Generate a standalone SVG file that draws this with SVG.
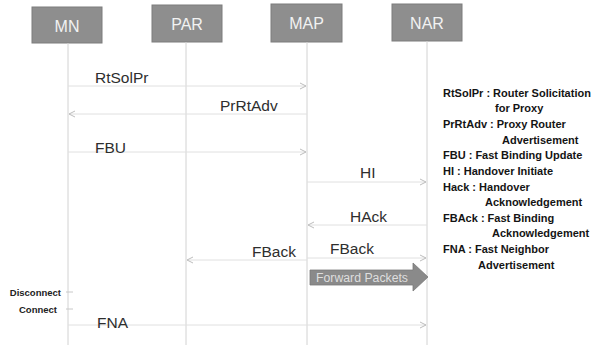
<svg xmlns="http://www.w3.org/2000/svg" width="595" height="348" viewBox="0 0 595 348">
<style>
.box{fill:#8e8e8e;stroke:#7c7c7c;stroke-width:1}
.bt{font-family:"Liberation Sans",Arial,sans-serif;font-size:16px;fill:#f2f2f2;text-anchor:middle}
.life{stroke:#d2d2d2;stroke-width:1;fill:none}
.msg{stroke:#e0e0e0;stroke-width:1;fill:none;marker-end:url(#ah)}
.lbl{font-family:"Liberation Sans",Arial,sans-serif;font-size:15.5px;fill:#2e2e2e}
.leg{font-family:"Liberation Sans",Arial,sans-serif;font-size:11px;font-weight:bold;fill:#141414}
.side{font-family:"Liberation Sans",Arial,sans-serif;font-size:9.5px;font-weight:bold;fill:#222}
</style>
<defs>
<marker id="ah" markerWidth="8" markerHeight="8" refX="7" refY="4" orient="auto" markerUnits="userSpaceOnUse">
<path d="M1,1 L7,4 L1,7" fill="none" stroke="#bdbdbd" stroke-width="1"/>
</marker>
</defs>
<rect width="595" height="348" fill="#ffffff"/>
<g id="MN"><rect class="box" x="32" y="7" width="70" height="36"/><text class="bt" x="67" y="32">MN</text></g>
<g id="PAR"><rect class="box" x="152" y="5" width="70" height="37"/><text class="bt" x="187" y="30">PAR</text></g>
<g id="MAP"><rect class="box" x="271" y="4" width="71" height="38"/><text class="bt" x="306.5" y="29">MAP</text></g>
<g id="NAR"><rect class="box" x="392" y="4" width="70" height="37"/><text class="bt" x="427" y="29">NAR</text></g>
<g id="lifelines">
<line class="life" x1="68" y1="43" x2="68" y2="345"/>
<line class="life" x1="186" y1="42" x2="186" y2="345"/>
<line class="life" x1="307" y1="42" x2="307" y2="345"/>
<line class="life" x1="427" y1="41" x2="427" y2="345" stroke="#bdbdbd"/>
</g>
<g id="connectors">
<line class="msg" x1="68" y1="86" x2="306" y2="86"/>
<line class="msg" x1="307" y1="114" x2="69" y2="114"/>
<line class="msg" x1="68" y1="152" x2="306" y2="152"/>
<line class="msg" x1="307" y1="182" x2="426" y2="182"/>
<line class="msg" x1="427" y1="225" x2="308" y2="225"/>
<line class="msg" x1="307" y1="260" x2="187" y2="260"/>
<line class="msg" x1="307" y1="258" x2="426" y2="258"/>
<line class="msg" x1="68" y1="325" x2="426" y2="325"/>
<line x1="66" y1="292" x2="73" y2="292" stroke="#c8c8c8"/>
<line x1="66" y1="309" x2="73" y2="309" stroke="#c8c8c8"/>
<polygon points="310,270 413,270 413,263 428,277 413,291 413,285 310,285" fill="#8a8a8a" stroke="#7a7a7a" stroke-width="0.8"/>
<text x="362" y="282" font-family="Liberation Sans, Arial, sans-serif" font-size="12px" fill="#dedede" text-anchor="middle" textLength="92" lengthAdjust="spacingAndGlyphs">Forward Packets</text>
</g>
<g id="labels">
<text class="lbl" x="95" y="83">RtSolPr</text>
<text class="lbl" x="220" y="111">PrRtAdv</text>
<text class="lbl" x="95" y="153">FBU</text>
<text class="lbl" x="360" y="178">HI</text>
<text class="lbl" x="350" y="222">HAck</text>
<text class="lbl" x="252" y="257">FBack</text>
<text class="lbl" x="330" y="254">FBack</text>
<text class="lbl" x="97" y="328">FNA</text>
<text class="side" x="61" y="296" text-anchor="end">Disconnect</text>
<text class="side" x="57" y="313" text-anchor="end">Connect</text>
</g>
<g id="legend">
<text class="leg" x="443" y="97">RtSolPr : Router Solicitation</text>
<text class="leg" x="495" y="112">for Proxy</text>
<text class="leg" x="443" y="128">PrRtAdv : Proxy Router</text>
<text class="leg" x="502" y="144">Advertisement</text>
<text class="leg" x="443" y="159">FBU : Fast Binding Update</text>
<text class="leg" x="443" y="175">HI : Handover Initiate</text>
<text class="leg" x="443" y="191">Hack : Handover</text>
<text class="leg" x="485" y="206">Acknowledgement</text>
<text class="leg" x="443" y="222">FBAck : Fast Binding</text>
<text class="leg" x="492" y="237">Acknowledgement</text>
<text class="leg" x="443" y="253">FNA : Fast Neighbor</text>
<text class="leg" x="478" y="269">Advertisement</text>
</g>
</svg>
